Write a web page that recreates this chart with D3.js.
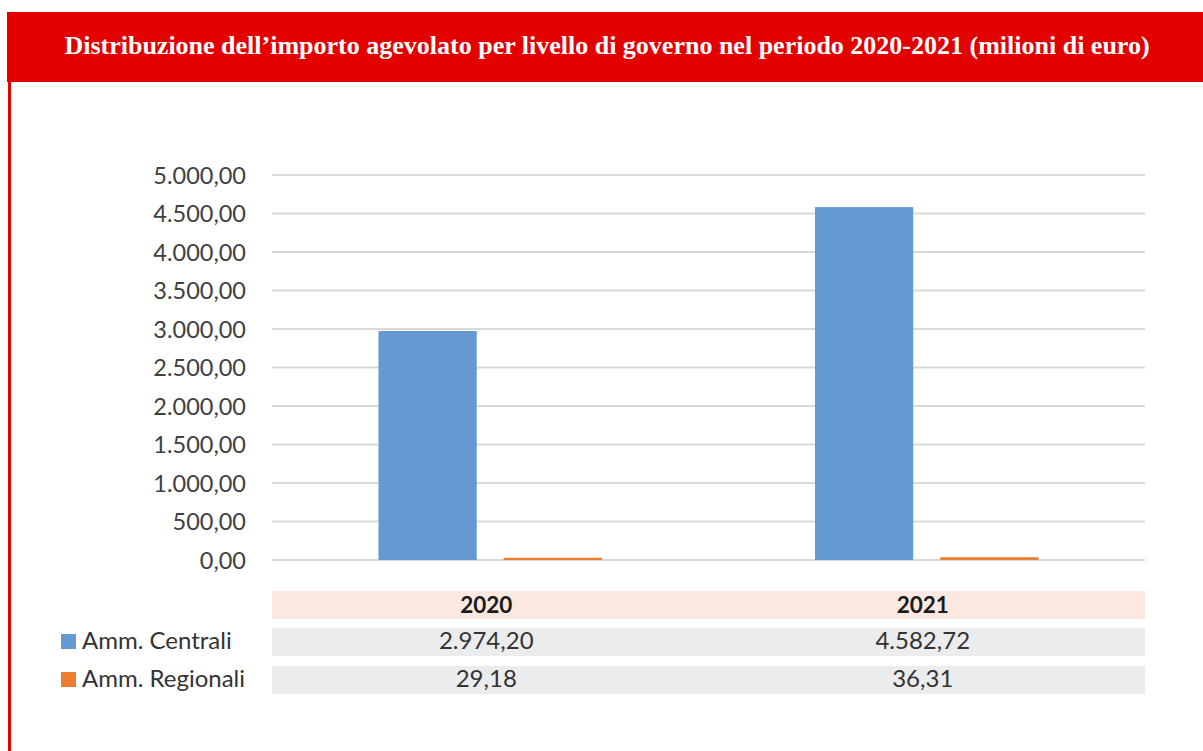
<!DOCTYPE html>
<html><head><meta charset="utf-8">
<script src="https://cdn.jsdelivr.net/npm/d3@7"></script>
<style>body{margin:0;background:#fff}svg{display:block}</style>
</head><body>
<script>
const title = "Distribuzione dell\u2019importo agevolato per livello di governo nel periodo 2020-2021 (milioni di euro)";
const years = ["2020", "2021"];
const seriesNames = ["Amm. Centrali", "Amm. Regionali"];
const centrali = [2974.20, 4582.72];
const regionali = [29.18, 36.31];
const yTicks = [0, 500, 1000, 1500, 2000, 2500, 3000, 3500, 4000, 4500, 5000];
const colors = ["#6499D1", "#ED7D31"];

const W = 1203, H = 751;
const svg = d3.select("body").append("svg").attr("width", W).attr("height", H);

// frame
svg.append("rect").attr("x", 7).attr("y", 12).attr("width", W - 7).attr("height", 70).attr("fill", "#E30000");
svg.append("rect").attr("x", 8).attr("y", 82).attr("width", 3).attr("height", H - 82).attr("fill", "#E30000");
svg.append("text").attr("x", 607).attr("y", 54).attr("text-anchor", "middle")
  .attr("font-family", "Liberation Serif").attr("font-weight", "bold").attr("font-size", 26)
  .attr("fill", "#fff").text(title);

const locale = d3.formatLocale({decimal: ",", thousands: ".", grouping: [3], currency: ["", "€"]});
const fmt = locale.format(",.2f");

const x0 = 272, x1 = 1145;
const y = d3.scaleLinear().domain([0, 5000]).range([560, 175]);
const xb = d3.scaleBand().domain(years).range([x0, x1]);
const xs = d3.scaleBand().domain(seriesNames).range([0, xb.bandwidth()]).paddingInner(0.216).paddingOuter(0.85);

// grid
svg.append("g").selectAll("line").data(yTicks).join("line")
  .attr("x1", x0).attr("x2", x1).attr("y1", d => y(d)).attr("y2", d => y(d))
  .attr("stroke", "#D9D9D9").attr("stroke-width", 2);

const yAxis = d3.axisLeft(y).tickValues(yTicks).tickFormat(fmt).tickSize(0).tickPadding(0);
const ga = svg.append("g").attr("transform", "translate(246,0)").call(yAxis);
ga.select(".domain").remove();
ga.selectAll("text").attr("font-family", "Lato").attr("font-size", 23.5).attr("fill", "#404040").attr("dy", "0.34em");

// bars
const data = [centrali, regionali];
seriesNames.forEach((s, si) => {
  svg.append("g").selectAll("rect").data(years).join("rect")
    .attr("x", (d) => xb(d) + xs(s))
    .attr("width", xs.bandwidth())
    .attr("y", (d, i) => y(data[si][i]))
    .attr("height", (d, i) => y(0) - y(data[si][i]))
    .attr("fill", colors[si]);
});

// table
svg.append("rect").attr("x", x0).attr("y", 591).attr("width", x1 - x0).attr("height", 28).attr("fill", "#FBE9E1");
svg.append("g").selectAll("text").data(years).join("text")
  .attr("x", d => xb(d) + xb.bandwidth() / 2 - 4).attr("y", 613).attr("text-anchor", "middle")
  .attr("font-family", "Lato").attr("font-weight", "bold").attr("font-size", 22.5).attr("fill", "#1a1a1a").text(d => d);

const rowY = [628, 666];
seriesNames.forEach((s, si) => {
  svg.append("rect").attr("x", x0).attr("y", rowY[si]).attr("width", x1 - x0).attr("height", 28).attr("fill", "#EBECEE");
  svg.append("rect").attr("x", 61).attr("y", rowY[si] + 6).attr("width", 15).attr("height", 15).attr("fill", colors[si]);
  svg.append("text").attr("x", 82).attr("y", rowY[si] + 21).attr("font-family", "Lato").attr("font-size", 24).attr("fill", "#333").text(s);
  svg.append("g").selectAll("text").data(years).join("text")
    .attr("x", d => xb(d) + xb.bandwidth() / 2 - 4).attr("y", rowY[si] + 21).attr("text-anchor", "middle")
    .attr("font-family", "Lato").attr("font-size", 24).attr("fill", "#333")
    .text((d, i) => fmt(data[si][i]));
});
</script>
</body></html>
